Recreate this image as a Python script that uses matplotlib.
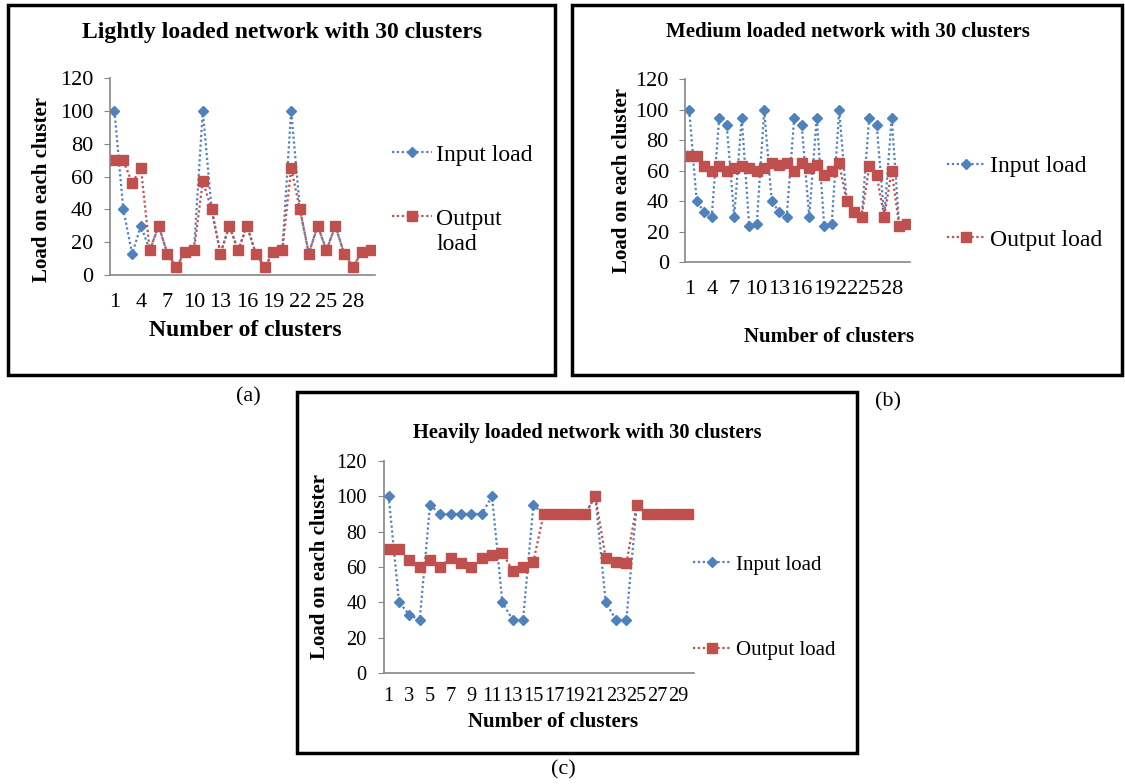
import numpy as np
import matplotlib
matplotlib.use('Agg')
import matplotlib.pyplot as plt
from matplotlib.patches import Rectangle

plt.rcParams['font.family'] = ['Liberation Serif', 'DejaVu Serif']

clusters = np.arange(1, 31)

# (a) lightly loaded
light_input = [100, 40, 13, 30, 15, 30, 13, 5, 14, 15,
               100, 40, 13, 30, 15, 30, 13, 5, 14, 15,
               100, 40, 13, 30, 15, 30, 13, 5, 14, 15]
light_output = [70, 70, 56, 65, 15, 30, 13, 5, 14, 15,
                57, 40, 13, 30, 15, 30, 13, 5, 14, 15,
                65, 40, 13, 30, 15, 30, 13, 5, 14, 15]

# (b) medium loaded
medium_input = [100, 40, 33, 30, 95, 90, 30, 95, 24, 25,
                100, 40, 33, 30, 95, 90, 30, 95, 24, 25,
                100, 40, 33, 30, 95, 90, 30, 95, 24, 25]
medium_output = [70, 70, 63, 60, 63, 60, 62, 63, 62, 60,
                 62, 65, 64, 65, 60, 65, 62, 64, 57, 60,
                 65, 40, 33, 30, 63, 57, 30, 60, 24, 25]

# (c) heavily loaded
heavy_input = [100, 40, 33, 30, 95, 90, 90, 90, 90, 90,
               100, 40, 30, 30, 95, 90, 90, 90, 90, 90,
               100, 40, 30, 30, 95, 90, 90, 90, 90, 90]
heavy_output = [70, 70, 64, 60, 64, 60, 65, 62, 60, 65,
                67, 68, 58, 60, 63, 90, 90, 90, 90, 90,
                100, 65, 63, 62, 95, 90, 90, 90, 90, 90]

BLUE = '#4F81BD'
RED = '#C0504D'
GRAY = '#868686'
DOTS = (0, (1, 1.2))

fig = plt.figure(figsize=(11.25, 7.84), dpi=100)

panels = [
    dict(inp=light_input, out=light_output,
         title='Lightly loaded network with 30 clusters', tfs=17, tpos=(0.2507, 0.958),
         ax=[0.0978, 0.6492, 0.2356, 0.2513], step=3, tick_fs=16, xpad=13,
         ylab=(0.0373, 0.7577), ylfs=15, xlab=(0.2178, 0.579), xlfs=17,
         leg=(0.3484, 0.7615), legfs=17, outlabel='Output', lspace=1.8,
         hlen=1.7, hpad=0.17, wrap='load', wrap_y=0.688,
         box=[0.0071, 0.5217, 0.4862, 0.4719], plab='(a)', ppos=(0.2204, 0.4936)),
    dict(inp=medium_input, out=medium_output,
         title='Medium loaded network with 30 clusters', tfs=15, tpos=(0.7538, 0.959),
         ax=[0.6093, 0.6654, 0.2, 0.2332], step=3, tick_fs=16, xpad=13,
         ylab=(0.553, 0.770), ylfs=15, xlab=(0.7369, 0.570), xlfs=15,
         leg=(0.8418, 0.741), legfs=17, outlabel='Output load', lspace=2.2,
         hlen=1.6, hpad=0.2, wrap=None, wrap_y=None,
         box=[0.5084, 0.5217, 0.4889, 0.4719], plab='(b)', ppos=(0.7893, 0.4872)),
    dict(inp=heavy_input, out=heavy_output,
         title='Heavily loaded network with 30 clusters', tfs=14.7, tpos=(0.522, 0.4477),
         ax=[0.3409, 0.1416, 0.2756, 0.2704], step=2, tick_fs=14.7, xpad=10,
         ylab=(0.2844, 0.2768), ylfs=15, xlab=(0.4916, 0.0795), xlfs=15,
         leg=(0.616, 0.2252), legfs=15, outlabel='Output load', lspace=3.15,
         hlen=1.8, hpad=0.24, wrap=None, wrap_y=None,
         box=[0.264, 0.0395, 0.4978, 0.4605], plab='(c)', ppos=(0.5004, 0.0179)),
]

for p in panels:
    ax = fig.add_axes(p['ax'])
    l1, = ax.plot(clusters, p['inp'], color=BLUE, linestyle=DOTS, linewidth=1.6,
                  marker='D', markersize=5.5, label='Input load')
    l2, = ax.plot(clusters, p['out'], color=RED, linestyle=DOTS, linewidth=1.6,
                  marker='s', markersize=7, label=p['outlabel'])
    ax.set_xlim(0.5, 30.5)
    ax.set_ylim(0, 120)
    ax.set_yticks(np.arange(0, 121, 20))
    ax.set_xticks(clusters[::p['step']])
    for s in ['top', 'right']:
        ax.spines[s].set_visible(False)
    for s in ['left', 'bottom']:
        ax.spines[s].set_color(GRAY)
        ax.spines[s].set_linewidth(1.2)
    ax.tick_params(axis='y', length=4, color=GRAY, labelsize=p['tick_fs'], pad=8)
    ax.tick_params(axis='x', length=0, labelsize=p['tick_fs'], pad=p['xpad'])

    fig.text(*p['tpos'], p['title'], ha='center', va='center',
             fontsize=p['tfs'], fontweight='bold')
    fig.text(*p['ylab'], 'Load on each cluster', ha='center', va='center',
             rotation=90, fontsize=p['ylfs'], fontweight='bold')
    fig.text(*p['xlab'], 'Number of clusters', ha='center', va='center',
             fontsize=p['xlfs'], fontweight='bold')
    leg = ax.legend(handles=[l1, l2], loc='center left', bbox_to_anchor=p['leg'],
                    bbox_transform=fig.transFigure, frameon=False, fontsize=p['legfs'],
                    borderpad=0, borderaxespad=0, handlelength=p['hlen'],
                    handletextpad=p['hpad'], labelspacing=p['lspace'], numpoints=1)

    # second line of the wrapped legend label, aligned with the label text
    if p['wrap']:
        fig.canvas.draw()
        bb = leg.get_texts()[1].get_window_extent()
        fig.text(bb.x0 / fig.bbox.width, p['wrap_y'], p['wrap'], ha='left',
                 va='center', fontsize=p['legfs'])

    fig.patches.append(Rectangle(p['box'][:2], p['box'][2], p['box'][3],
                                 transform=fig.transFigure, fill=False,
                                 edgecolor='black', linewidth=2.5))
    fig.text(*p['ppos'], p['plab'], ha='center', va='center', fontsize=16)

fig.savefig('out.png', dpi=100)
